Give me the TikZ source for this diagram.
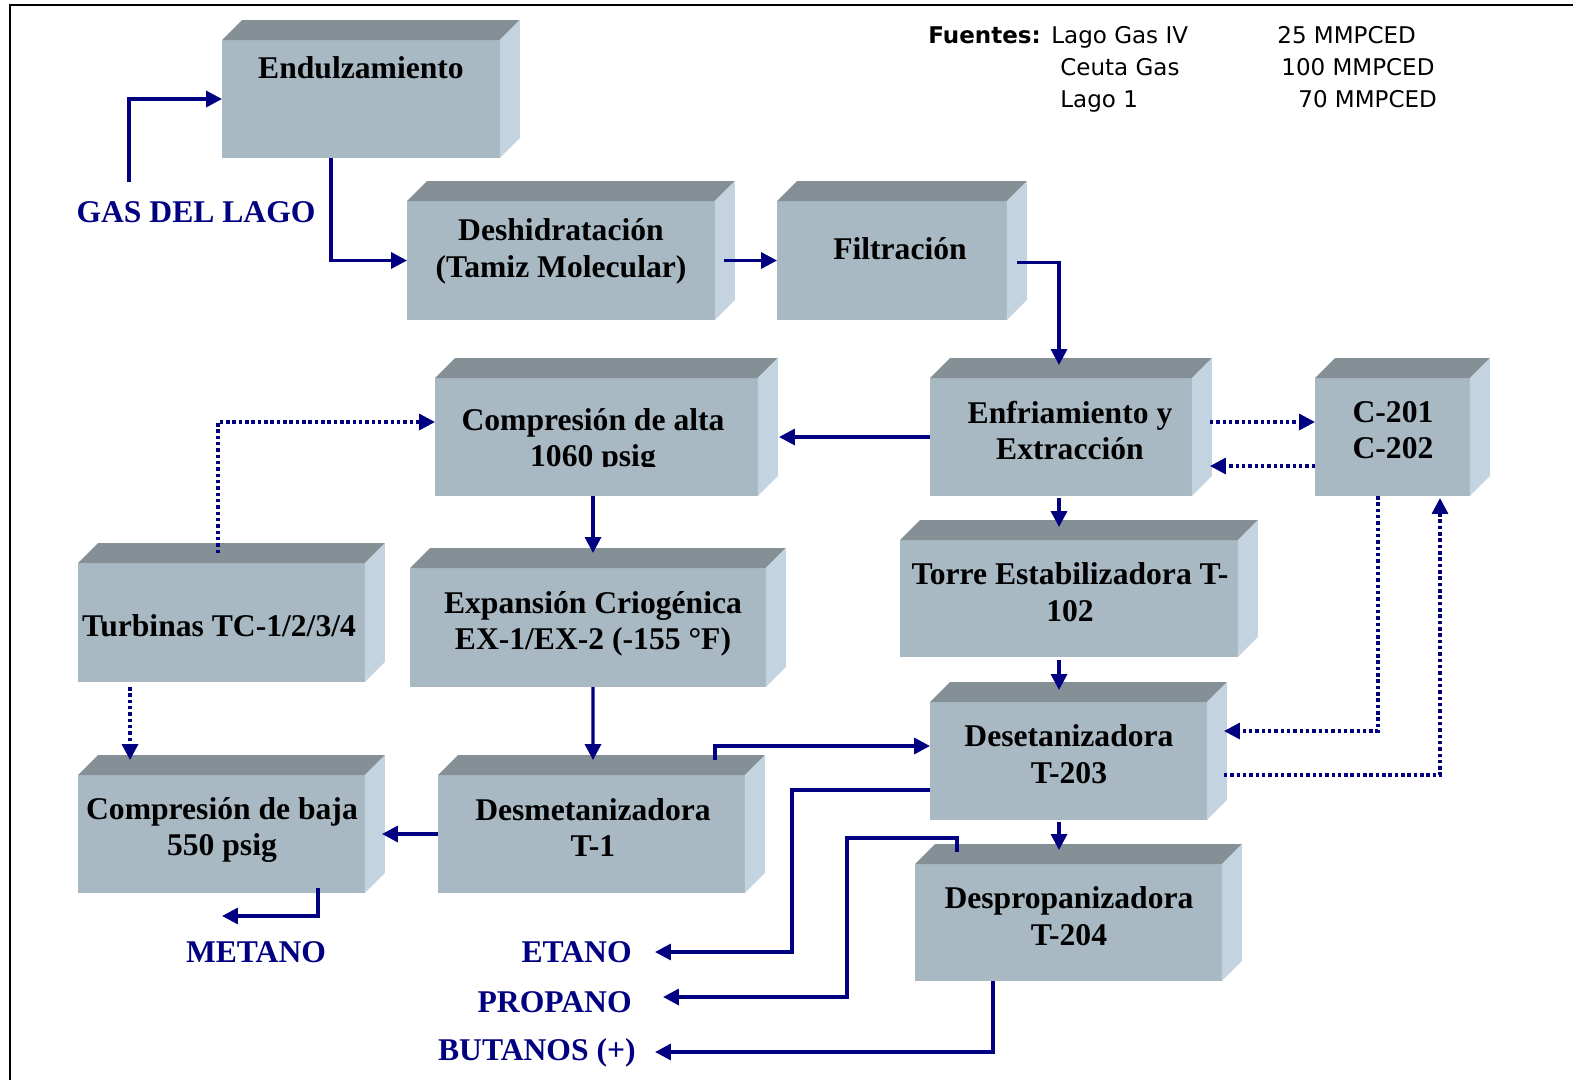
\documentclass[tikz,border=0pt]{standalone}
\usepackage{fontspec}
\setmainfont{Liberation Serif}
\newfontfamily\fuentesans{DejaVu Sans}
\usetikzlibrary{arrows.meta,calc,positioning}

\begin{document}
\begin{tikzpicture}[x=0.02cm,y=-0.02cm,
    caja/.style={fill=frente,inner sep=0pt,outer sep=0pt},
    texto/.style={font=\bfseries\fontsize{18}{20.8}\selectfont,align=center,inner sep=0pt},
    corriente/.style={font=\bfseries\fontsize{18}{20.8}\selectfont,text=azul,inner sep=0pt},
    fuente/.style={font=\fuentesans\fontsize{13.1}{15}\selectfont,inner sep=0pt,anchor=base west},
    flecha/.style={color=azul,line width=1.9pt,-{Triangle[length=9pt,width=9pt]}},
    punteada/.style={dash pattern=on 2pt off 1.6pt},
    techo/.style={fill=arriba},
    lado/.style={fill=costado}]
    \definecolor{frente}{RGB}{169,185,196}
    \definecolor{arriba}{RGB}{133,143,150}
    \definecolor{costado}{RGB}{195,212,224}
    \definecolor{azul}{RGB}{0,0,128}
    \useasboundingbox (0,0) rectangle (1573,1080);
    \draw[line width=1.2pt] (1573,5) -- (10,5) -- (10,1080);

    % fuentes de gas
    \node[fuente] (fuentes) at (928,43.5) {\bfseries Fuentes:};
    \node[fuente] (lagogas) at (1051,43.5) {Lago Gas IV};
    \node[fuente] (ceuta) at (1060,75.5) {Ceuta Gas};
    \node[fuente] (lagouno) at (1060,107.5) {Lago 1};
    \node[fuente] (caudaluno) at (1277,43.5) {25 MMPCED};
    \node[fuente] (caudaldos) at (1281,75.5) {100 MMPCED};
    \node[fuente] (caudaltres) at (1298,107.5) {70 MMPCED};

    % cajas
    \node[caja,minimum width=5.56cm,minimum height=2.36cm] (endulz) at (361,99) {};
    \node[caja,minimum width=6.16cm,minimum height=2.38cm] (deshid) at (561,260.5) {};
    \node[caja,minimum width=4.6cm,minimum height=2.38cm] (filtr) at (892,260.5) {};
    \node[caja,minimum width=5.24cm,minimum height=2.36cm] (enfri) at (1061,437) {};
    \node[caja,minimum width=3.1cm,minimum height=2.36cm] (comp) at (1392.5,437) {};
    \node[caja,minimum width=6.46cm,minimum height=2.36cm] (compalta) at (596.5,437) {};
    \node[caja,minimum width=5.74cm,minimum height=2.38cm] (turb) at (221.5,622.5) {};
    \node[caja,minimum width=7.12cm,minimum height=2.38cm] (expan) at (588,627.5) {};
    \node[caja,minimum width=6.76cm,minimum height=2.34cm] (torre) at (1069,598.5) {};
    \node[caja,minimum width=5.54cm,minimum height=2.36cm] (deset) at (1068.5,761) {};
    \node[caja,minimum width=5.74cm,minimum height=2.36cm] (compbaja) at (221.5,834) {};
    \node[caja,minimum width=6.14cm,minimum height=2.36cm] (desmet) at (591.5,834) {};
    \node[caja,minimum width=6.14cm,minimum height=2.34cm] (desprop) at (1068.5,922.5) {};

    \foreach \n in {endulz,deshid,filtr,enfri,comp,compalta,turb,expan,torre,deset,compbaja,desmet,desprop}{
        \fill[techo] (\n.north west) -- ++(20,-20) -- ([shift={(20,-20)}]\n.north east) -- (\n.north east) -- cycle;
        \fill[lado] (\n.north east) -- ++(20,-20) -- ([shift={(20,-20)}]\n.south east) -- (\n.south east) -- cycle;
    }

    % textos de las cajas
    \node[texto] (endulztxt) at ($(endulz)+(0,-31)$) {Endulzamiento};
    \node[texto] (deshidtxt) at ($(deshid)+(0,-9)$) {Deshidratación\\(Tamiz Molecular)};
    \node[texto] (filtrtxt) at ($(filtr)+(8,-11.5)$) {Filtración};
    \node[texto] (enfritxt) at ($(enfri)+(9,-6.5)$) {Enfriamiento y\\Extracción};
    \node[texto] (comptxt) at ($(comp)+(0.5,-7)$) {C-201\\C-202};
    \begin{scope}
        \clip (compalta.north west) rectangle ($(compalta.south east)+(0,-30)$);
        \node[texto] (compaltatxt) at ($(compalta)+(-3.5,4)$) {Compresión de alta\\1060 psig};
    \end{scope}
    \node[texto] (turbtxt) at ($(turb)+(-2.5,3.5)$) {Turbinas TC-1/2/3/4};
    \node[texto] (expantxt) at ($(expan)+(5,-3.5)$) {Expansión Criogénica\\EX-1/EX-2 (-155 °F)};
    \node[texto] (torretxt) at ($(torre)+(1,-6.5)$) {Torre Estabilizadora T-\\102};
    \node[texto] (desettxt) at ($(deset)+(0.5,-7)$) {Desetanizadora\\T-203};
    \node[texto] (compbajatxt) at ($(compbaja)+(0.5,-4)$) {Compresión de baja\\550 psig};
    \node[texto] (desmettxt) at ($(desmet)+(1.5,-6.5)$) {Desmetanizadora\\T-1};
    \node[texto] (desproptxt) at ($(desprop)+(0.5,-6.5)$) {Despropanizadora\\T-204};

    % corrientes
    \node[corriente] (gas) at (196,212) {GAS DEL LAGO};
    \node[corriente] (metano) at (256,952) {METANO};
    \node[corriente,anchor=east] (etano) at (632,952) {ETANO};
    \node[corriente,anchor=east] (propano) at (632,1002) {PROPANO};
    \node[corriente,anchor=east] (butanos) at (636,1053) {BUTANOS (+)};
    \coordinate (gasflecha) at (129,182);

    \draw[flecha] (gasflecha) |- (endulz.west);
    \draw[flecha] ($(endulz.south west)+(109,0)$) |- (deshid.west);
    \draw[flecha] ($(deshid.east)+(9,0)$) -- (filtr.west);
    \draw[flecha] ($(filtr.east)+(10,2)$) -| ($(enfri.north)+(-2,-13)$);
    \draw[flecha] (enfri.west) -- ($(compalta.east)+(21,0)$);
    \draw[flecha,punteada] ($(enfri.east)+(18,-15)$) -- ($(comp.west)+(0,-15)$);
    \draw[flecha,punteada] ($(comp.west)+(0,29)$) -- ($(enfri.east)+(18,29)$);
    \draw[flecha] ($(compalta.south)+(-3.5,0)$) -- ($(expan.north)+(5,-15)$);
    \draw[flecha] ($(enfri.south)+(-2,2)$) -- ($(torre.north)+(-10,-13)$);
    \draw[flecha] ($(torre.south)+(-10,3)$) -- ($(deset.north)+(-9.5,-12)$);
    \draw[flecha,punteada] ($(turb.north)+(-3.5,-10)$) |- ($(compalta.west)+(0,-15)$);
    \draw[flecha,punteada] ($(turb.south west)+(52,5)$) -- ($(compbaja.north west)+(52,-15)$);
    \draw[flecha] ($(expan.south)+(5,0)$) -- ($(desmet.north)+(1.5,-15)$);
    \draw[flecha] ($(desmet.north west)+(277,-15)$) |- ($(deset.west)+(0,-15)$);
    \draw[flecha] (desmet.west) -- ($(compbaja.east)+(17,0)$);
    \draw[flecha] ($(compbaja.south west)+(240,-5)$) |- ($(compbaja.south west)+(144,23)$);
    \draw[flecha,punteada] ($(comp.south)+(-14.5,0)$) |- ($(deset.east)+(17,-30)$);
    \draw[flecha,punteada] ($(deset.east)+(17,14)$) -| ($(comp.south)+(47.5,2)$);
    \draw[flecha] ($(deset.west)+(0,29)$) -| ($(etano.east)+(160,0)$) -- ($(etano.east)+(23,0)$);
    \draw[flecha] ($(deset.south)+(-9.5,2)$) -- ($(desprop.north)+(-9.5,-14)$);
    \draw[flecha] ($(desprop.north west)+(42,-12)$) |- ($(desprop.north west)+(-68,-26)$) |- ($(propano.east)+(31,-5)$);
    \draw[flecha] ($(desprop.south west)+(78,0)$) |- ($(butanos.east)+(19,-1)$);
\end{tikzpicture}
\end{document}
